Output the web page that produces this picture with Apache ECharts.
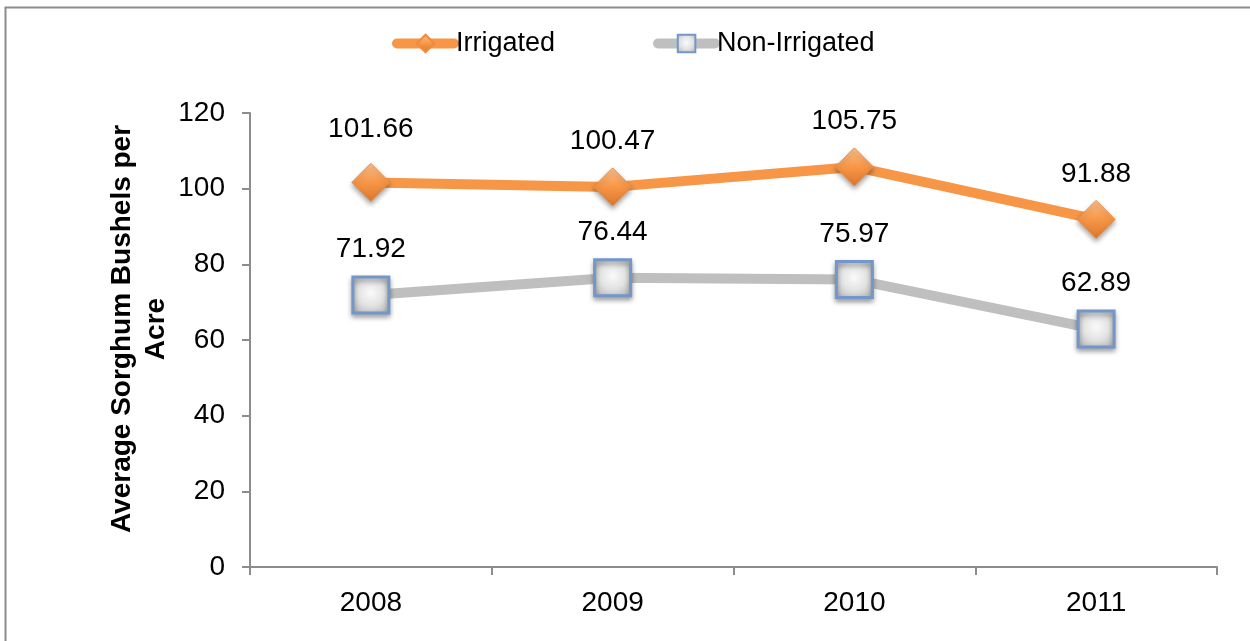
<!DOCTYPE html>
<html>
<head>
<meta charset="utf-8">
<script src="https://cdn.jsdelivr.net/npm/echarts@6/dist/echarts.min.js"></script>
<style>
  html, body { margin: 0; padding: 0; background: #fff; }
  #chart { width: 1250px; height: 641px; }
</style>
</head>
<body>
<div id="chart"></div>
<script>
// Sorghum yields by year
const years = ['2008', '2009', '2010', '2011'];
const irrigated = [101.66, 100.47, 105.75, 91.88];
const nonIrrigated = [71.92, 76.44, 75.97, 62.89];
const seriesNames = ['Irrigated', 'Non-Irrigated'];
const yTitle = 'Average Sorghum Bushels per\nAcre';

const FONT = 'Liberation Sans, Arial, sans-serif';
const AXIS_GRAY = '#8c8c8c';

const chart = echarts.init(document.getElementById('chart'), null, { renderer: 'canvas' });

const diamondFill = new echarts.graphic.LinearGradient(0, 0, 0, 1, [
  { offset: 0, color: '#fcc08f' },
  { offset: 0.5, color: '#f79646' },
  { offset: 1, color: '#d9772d' }
]);
const squareFill = new echarts.graphic.RadialGradient(0.5, 0.45, 0.75, [
  { offset: 0, color: '#fafafa' },
  { offset: 0.45, color: '#e2e2e2' },
  { offset: 1, color: '#a8a8a8' }
]);

const labelStyle = {
  show: true,
  position: 'top',
  distance: 12,
  fontFamily: FONT,
  fontSize: 28,
  color: '#000'
};

// the first irrigated label sits a little higher than the rest
const irrigatedData = irrigated.map((v, i) =>
  i === 0 ? { value: v, label: { distance: 20 } } : v);

chart.setOption({
  animation: false,
  backgroundColor: '#fff',
  graphic: [{
    type: 'rect',
    shape: { x: 5.5, y: 7.5, width: 1400, height: 800 },
    style: { fill: 'none', stroke: AXIS_GRAY, lineWidth: 2 },
    silent: true
  }],
  legend: {
    top: 30,
    left: 392,
    padding: 0,
    itemWidth: 57,
    itemHeight: 22,
    itemGap: 98,
    lineStyle: { width: 10, cap: 'round' },
    textStyle: { fontFamily: FONT, fontSize: 27, color: '#000', padding: [0, 0, 0, -3] },
    data: seriesNames
  },
  grid: { left: 250, right: 33, top: 113, bottom: 74, containLabel: false },
  xAxis: {
    type: 'category',
    data: years,
    boundaryGap: true,
    axisLine: { lineStyle: { color: AXIS_GRAY, width: 2 } },
    axisTick: { show: true, alignWithLabel: false, length: 8, lineStyle: { color: AXIS_GRAY, width: 2 } },
    axisLabel: { fontFamily: FONT, fontSize: 28, color: '#000', margin: 22 },
    splitLine: { show: false }
  },
  yAxis: {
    type: 'value',
    min: 0,
    max: 120,
    interval: 20,
    name: yTitle,
    nameLocation: 'middle',
    nameGap: 77,
    nameMoveOverlap: false,
    nameRotate: 90,
    nameTextStyle: {
      fontFamily: FONT, fontSize: 28, fontWeight: 'bold', color: '#000',
      lineHeight: 34, align: 'center', padding: [0, 0, 0, 22]
    },
    axisLine: { show: true, lineStyle: { color: AXIS_GRAY, width: 2 } },
    axisTick: { show: true, length: 8, lineStyle: { color: AXIS_GRAY, width: 2 } },
    axisLabel: { fontFamily: FONT, fontSize: 28, color: '#000', margin: 25 },
    splitLine: { show: false }
  },
  series: [
    {
      name: seriesNames[0],
      type: 'line',
      data: irrigatedData,
      symbol: 'diamond',
      symbolSize: 38,
      lineStyle: { color: '#f79646', width: 10 },
      itemStyle: {
        color: diamondFill,
        borderColor: '#f08a3c',
        borderWidth: 1,
        shadowBlur: 5,
        shadowOffsetY: 3,
        shadowColor: 'rgba(0,0,0,0.35)'
      },
      label: labelStyle,
      z: 3
    },
    {
      name: seriesNames[1],
      type: 'line',
      data: nonIrrigated,
      symbol: 'rect',
      symbolSize: 36,
      lineStyle: { color: '#bfbfbf', width: 10 },
      itemStyle: {
        color: squareFill,
        borderColor: '#7397cb',
        borderWidth: 3,
        shadowBlur: 5,
        shadowOffsetY: 3,
        shadowColor: 'rgba(0,0,0,0.35)'
      },
      label: labelStyle,
      z: 2
    }
  ]
});
</script>
</body>
</html>
